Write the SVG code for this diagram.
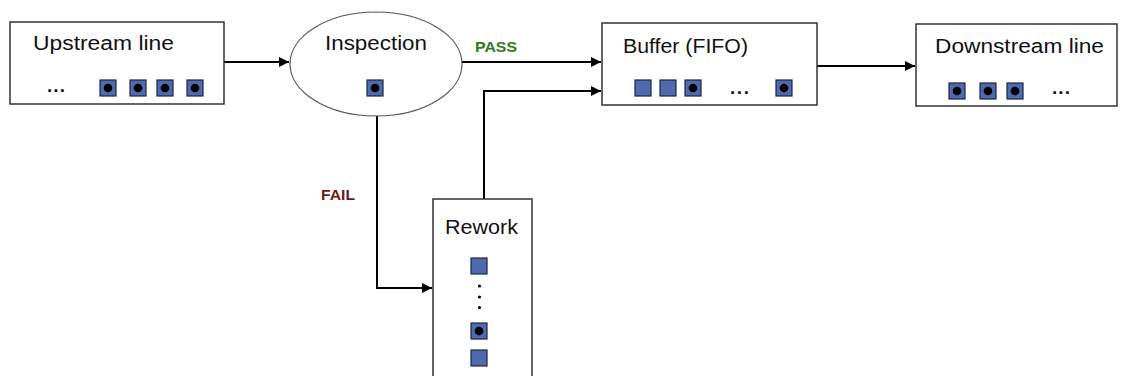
<svg xmlns="http://www.w3.org/2000/svg" width="1121" height="376" viewBox="0 0 1121 376">
<defs>
<style>
.box{fill:#fff;stroke:#333;stroke-width:1.5}
.ell{fill:#fff;stroke:#555;stroke-width:1.2}
.lbl{font-family:"Liberation Sans",Arial,sans-serif;font-size:20px;fill:#111}
.sq{fill:#4f6aae;stroke:#1c2540;stroke-width:1.2}
.dot{fill:#000}
.ell3{font-family:"Liberation Sans",Arial,sans-serif;font-size:19px;font-weight:bold;fill:#111}
.conn{fill:none;stroke:#000;stroke-width:2}
.pass{font-family:"Liberation Sans",Arial,sans-serif;font-size:15px;font-weight:bold;fill:#2f7a1f}
.fail{font-family:"Liberation Sans",Arial,sans-serif;font-size:15px;font-weight:bold;fill:#6b1a1a}
</style>
<marker id="arr" viewBox="0 0 10 10" refX="10" refY="5" markerWidth="5" markerHeight="5" orient="auto" markerUnits="strokeWidth">
<path d="M0,0 L10,5 L0,10 z" fill="#000"/>
</marker>
<g id="sqd"><rect class="sq" x="0" y="0" width="16" height="16"/><circle class="dot" cx="8" cy="8" r="4.3"/></g>
<rect id="sqe" class="sq" x="0" y="0" width="16" height="16"/>
</defs>
<rect width="1121" height="376" fill="#fff"/>
<g id="connectors">
<path class="conn" d="M224,62 L289,62" marker-end="url(#arr)"/>
<path class="conn" d="M462,62 L601,62" marker-end="url(#arr)"/>
<path class="conn" d="M484,199 L484,91 L601,91" marker-end="url(#arr)"/>
<path class="conn" d="M817,66 L915,66" marker-end="url(#arr)"/>
<path class="conn" d="M377,116 L377,288 L432,288" marker-end="url(#arr)"/>
<text class="pass" x="475" y="52" textLength="42" lengthAdjust="spacingAndGlyphs">PASS</text>
<text class="fail" x="321" y="199.5" textLength="34" lengthAdjust="spacingAndGlyphs">FAIL</text>
</g>
<g id="upstream">
<rect class="box" x="10" y="22" width="214" height="82"/>
<text class="lbl" x="33" y="50" textLength="141" lengthAdjust="spacingAndGlyphs">Upstream line</text>
<text class="ell3" x="47" y="92" textLength="18" lengthAdjust="spacing">...</text>
<use href="#sqd" x="100" y="80"/>
<use href="#sqd" x="130" y="80"/>
<use href="#sqd" x="157" y="80"/>
<use href="#sqd" x="187" y="80"/>
</g>
<g id="inspection">
<ellipse class="ell" cx="376" cy="64" rx="86" ry="52"/>
<text class="lbl" x="325" y="49.5" textLength="102" lengthAdjust="spacingAndGlyphs">Inspection</text>
<use href="#sqd" x="367" y="80"/>
</g>
<g id="buffer">
<rect class="box" x="602" y="23" width="215" height="82"/>
<text class="lbl" x="623" y="52.5" textLength="125" lengthAdjust="spacingAndGlyphs">Buffer (FIFO)</text>
<use href="#sqe" x="635" y="80"/>
<use href="#sqe" x="660" y="80"/>
<use href="#sqd" x="685" y="80"/>
<text class="ell3" x="730" y="94" textLength="19" lengthAdjust="spacing">...</text>
<use href="#sqd" x="776" y="80"/>
</g>
<g id="downstream">
<rect class="box" x="916" y="24" width="201" height="82"/>
<text class="lbl" x="935" y="52.5" textLength="169" lengthAdjust="spacingAndGlyphs">Downstream line</text>
<use href="#sqd" x="949" y="83"/>
<use href="#sqd" x="980" y="83"/>
<use href="#sqd" x="1007" y="83"/>
<text class="ell3" x="1052" y="94" textLength="18" lengthAdjust="spacing">...</text>
</g>
<g id="rework">
<rect class="box" x="433" y="199" width="99" height="190"/>
<text class="lbl" x="445" y="234" textLength="73" lengthAdjust="spacingAndGlyphs">Rework</text>
<use href="#sqe" x="471" y="258"/>
<circle class="dot" cx="479.5" cy="286" r="1.6"/>
<circle class="dot" cx="479.5" cy="297" r="1.6"/>
<circle class="dot" cx="479.5" cy="307.5" r="1.6"/>
<use href="#sqd" x="471" y="323"/>
<use href="#sqe" x="471" y="350"/>
</g>
</svg>
